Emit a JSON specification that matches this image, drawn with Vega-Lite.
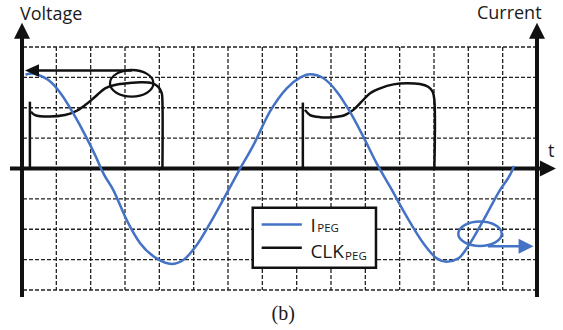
{
  "$schema": "https://vega.github.io/schema/vega-lite/v6.json",
  "width": 515,
  "height": 243,
  "autosize": {"type": "none"},
  "padding": {"left": 22, "right": 26, "top": 47, "bottom": 40},
  "background": "white",
  "config": {"view": {"stroke": null}},
  "layer": [
    {
      "data": {"values": [{"x":1},{"x":2},{"x":3},{"x":4},{"x":5},{"x":6},{"x":7},{"x":8},{"x":9},{"x":10},{"x":11},{"x":12},{"x":13},{"x":14}]},
      "mark": {"type": "rule", "color": "#222", "strokeWidth": 1.3, "strokeDash": [4, 2]},
      "encoding": {"x": {"field": "x", "type": "quantitative", "scale": {"domain": [0, 15], "nice": false, "zero": false}, "axis": null}}
    },
    {
      "data": {"values": [{"y":-4},{"y":-3},{"y":-2},{"y":-1},{"y":1},{"y":2},{"y":3},{"y":4}]},
      "mark": {"type": "rule", "color": "#222", "strokeWidth": 1.3, "strokeDash": [4, 2]},
      "encoding": {"y": {"field": "y", "type": "quantitative", "scale": {"domain": [-4, 4], "nice": false, "zero": false}, "axis": null}}
    },
    {
      "data": {"values": [{"x": 6.72, "x2": 10.31, "y": -1.29, "y2": -3.27}]},
      "mark": {"type": "rect", "fill": "white", "stroke": "#111", "strokeWidth": 2.5},
      "encoding": {
        "x": {"field": "x", "type": "quantitative", "scale": {"domain": [0, 15], "nice": false, "zero": false}, "axis": null},
        "x2": {"field": "x2"},
        "y": {"field": "y", "type": "quantitative", "scale": {"domain": [-4, 4], "nice": false, "zero": false}, "axis": null},
        "y2": {"field": "y2"}
      }
    },
    {
      "data": {"values": [{"x": 0, "y": -4.23, "y2": 4.5}, {"x": 15, "y": -4.23, "y2": 4.5}]},
      "mark": {"type": "rule", "color": "#111", "strokeWidth": 4},
      "encoding": {
        "x": {"field": "x", "type": "quantitative", "scale": {"domain": [0, 15], "nice": false, "zero": false}, "axis": null},
        "y": {"field": "y", "type": "quantitative", "scale": {"domain": [-4, 4], "nice": false, "zero": false}, "axis": null},
        "y2": {"field": "y2"}
      }
    },
    {
      "data": {"values": [{"x": -0.35, "x2": 15.2, "y": 0}]},
      "mark": {"type": "rule", "color": "#111", "strokeWidth": 4},
      "encoding": {
        "x": {"field": "x", "type": "quantitative", "scale": {"domain": [0, 15], "nice": false, "zero": false}, "axis": null},
        "x2": {"field": "x2"},
        "y": {"field": "y", "type": "quantitative", "scale": {"domain": [-4, 4], "nice": false, "zero": false}, "axis": null}
      }
    },
    {
      "data": {"values": [{"x": 0, "y": 4.8}, {"x": 15, "y": 4.8}]},
      "mark": {"type": "point", "shape": "M0,0L-1,2L1,2Z", "size": 256, "filled": true, "color": "#111", "opacity": 1},
      "encoding": {
        "x": {"field": "x", "type": "quantitative", "scale": {"domain": [0, 15], "nice": false, "zero": false}, "axis": null},
        "y": {"field": "y", "type": "quantitative", "scale": {"domain": [-4, 4], "nice": false, "zero": false}, "axis": null}
      }
    },
    {
      "data": {"values": [{"x": 15.55, "y": 0}]},
      "mark": {"type": "point", "shape": "M0,0L-2,-1L-2,1Z", "size": 256, "filled": true, "color": "#111", "opacity": 1},
      "encoding": {
        "x": {"field": "x", "type": "quantitative", "scale": {"domain": [0, 15], "nice": false, "zero": false}, "axis": null},
        "y": {"field": "y", "type": "quantitative", "scale": {"domain": [-4, 4], "nice": false, "zero": false}, "axis": null}
      }
    },
    {
      "data": {"values": [{"x": 0.23, "y": 0, "y2": 2.2}, {"x": 8.18, "y": 0, "y2": 2.17}]},
      "mark": {"type": "rule", "color": "#111", "strokeWidth": 2.5},
      "encoding": {
        "x": {"field": "x", "type": "quantitative", "scale": {"domain": [0, 15], "nice": false, "zero": false}, "axis": null},
        "y": {"field": "y", "type": "quantitative", "scale": {"domain": [-4, 4], "nice": false, "zero": false}, "axis": null},
        "y2": {"field": "y2"}
      }
    },
    {
      "data": {"values": [
        {"s":"c1","o":1,"x":0.26,"y":1.87},{"s":"c1","o":2,"x":0.38,"y":1.76},{"s":"c1","o":3,"x":0.77,"y":1.71},{"s":"c1","o":4,"x":1.25,"y":1.76},{"s":"c1","o":5,"x":1.54,"y":1.87},{"s":"c1","o":6,"x":1.84,"y":2.09},{"s":"c1","o":7,"x":2.13,"y":2.36},{"s":"c1","o":8,"x":2.42,"y":2.64},{"s":"c1","o":9,"x":2.71,"y":2.75},{"s":"c1","o":10,"x":3.1,"y":2.81},{"s":"c1","o":11,"x":3.49,"y":2.84},{"s":"c1","o":12,"x":3.78,"y":2.81},{"s":"c1","o":13,"x":3.97,"y":2.69},{"s":"c1","o":14,"x":4.07,"y":2.48},{"s":"c1","o":15,"x":4.09,"y":2.2},{"s":"c1","o":16,"x":4.09,"y":0},
        {"s":"c2","o":1,"x":8.24,"y":1.93},{"s":"c2","o":2,"x":8.39,"y":1.76},{"s":"c2","o":3,"x":8.68,"y":1.69},{"s":"c2","o":4,"x":9.07,"y":1.69},{"s":"c2","o":5,"x":9.41,"y":1.76},{"s":"c2","o":6,"x":9.65,"y":1.93},{"s":"c2","o":7,"x":9.89,"y":2.2},{"s":"c2","o":8,"x":10.14,"y":2.48},{"s":"c2","o":9,"x":10.43,"y":2.64},{"s":"c2","o":10,"x":10.82,"y":2.77},{"s":"c2","o":11,"x":11.21,"y":2.81},{"s":"c2","o":12,"x":11.59,"y":2.78},{"s":"c2","o":13,"x":11.83,"y":2.69},{"s":"c2","o":14,"x":11.96,"y":2.53},{"s":"c2","o":15,"x":12.01,"y":2.26},{"s":"c2","o":16,"x":12.01,"y":0}
      ]},
      "mark": {"type": "line", "color": "#111", "strokeWidth": 2.5, "interpolate": "catmull-rom"},
      "encoding": {
        "x": {"field": "x", "type": "quantitative", "scale": {"domain": [0, 15], "nice": false, "zero": false}, "axis": null},
        "y": {"field": "y", "type": "quantitative", "scale": {"domain": [-4, 4], "nice": false, "zero": false}, "axis": null},
        "detail": {"field": "s", "type": "nominal"},
        "order": {"field": "o", "type": "quantitative"}
      }
    },
    {
      "data": {"values": [
        {"o":1,"x":0.1,"y":3.09},{"o":2,"x":0.28,"y":3.13},{"o":3,"x":0.48,"y":3.08},{"o":4,"x":0.77,"y":2.91},{"o":5,"x":1.16,"y":2.42},{"o":6,"x":1.49,"y":1.82},{"o":7,"x":1.84,"y":1.1},{"o":8,"x":2.13,"y":0.44},{"o":9,"x":2.37,"y":-0.16},{"o":10,"x":2.66,"y":-0.71},{"o":11,"x":3.05,"y":-1.7},{"o":12,"x":3.44,"y":-2.46},{"o":13,"x":3.92,"y":-2.96},{"o":14,"x":4.36,"y":-3.14},{"o":15,"x":4.7,"y":-3.01},{"o":16,"x":5.09,"y":-2.52},{"o":17,"x":5.48,"y":-1.8},{"o":18,"x":5.96,"y":-0.82},{"o":19,"x":6.3,"y":-0.11},{"o":20,"x":6.74,"y":0.77},{"o":21,"x":7.22,"y":1.87},{"o":22,"x":7.71,"y":2.64},{"o":23,"x":8.1,"y":2.99},{"o":24,"x":8.39,"y":3.1},{"o":25,"x":8.78,"y":2.97},{"o":26,"x":9.17,"y":2.53},{"o":27,"x":9.55,"y":1.87},{"o":28,"x":9.94,"y":1.05},{"o":29,"x":10.33,"y":0.17},{"o":30,"x":10.72,"y":-0.6},{"o":31,"x":11.21,"y":-1.59},{"o":32,"x":11.69,"y":-2.46},{"o":33,"x":12.08,"y":-2.96},{"o":34,"x":12.37,"y":-3.07},{"o":35,"x":12.71,"y":-2.96},{"o":36,"x":13.05,"y":-2.46},{"o":37,"x":13.44,"y":-1.7},{"o":38,"x":13.92,"y":-0.71},{"o":39,"x":14.26,"y":-0.11},{"o":40,"x":14.33,"y":0.08}
      ]},
      "mark": {"type": "line", "color": "#4472C4", "strokeWidth": 2.5, "interpolate": "monotone"},
      "encoding": {
        "x": {"field": "x", "type": "quantitative", "scale": {"domain": [0, 15], "nice": false, "zero": false}, "axis": null},
        "y": {"field": "y", "type": "quantitative", "scale": {"domain": [-4, 4], "nice": false, "zero": false}, "axis": null},
        "order": {"field": "o", "type": "quantitative"}
      }
    },
    {
      "data": {"values": [{"x": 3.195, "y": 2.805}]},
      "mark": {"type": "point", "shape": "M-1,0A1,0.613,0,1,1,1,0A1,0.613,0,1,1,-1,0Z", "size": 1884, "filled": false, "stroke": "#111", "strokeWidth": 2.3, "opacity": 1},
      "encoding": {
        "x": {"field": "x", "type": "quantitative", "scale": {"domain": [0, 15], "nice": false, "zero": false}, "axis": null},
        "y": {"field": "y", "type": "quantitative", "scale": {"domain": [-4, 4], "nice": false, "zero": false}, "axis": null}
      }
    },
    {
      "data": {"values": [{"x": 0.47, "x2": 3.2, "y": 3.226}]},
      "mark": {"type": "rule", "color": "#111", "strokeWidth": 2.3},
      "encoding": {
        "x": {"field": "x", "type": "quantitative", "scale": {"domain": [0, 15], "nice": false, "zero": false}, "axis": null},
        "x2": {"field": "x2"},
        "y": {"field": "y", "type": "quantitative", "scale": {"domain": [-4, 4], "nice": false, "zero": false}, "axis": null}
      }
    },
    {
      "data": {"values": [{"x": 0.087, "y": 3.226}]},
      "mark": {"type": "point", "shape": "M0,0L2,-0.9L2,0.9Z", "size": 196, "filled": true, "color": "#111", "opacity": 1},
      "encoding": {
        "x": {"field": "x", "type": "quantitative", "scale": {"domain": [0, 15], "nice": false, "zero": false}, "axis": null},
        "y": {"field": "y", "type": "quantitative", "scale": {"domain": [-4, 4], "nice": false, "zero": false}, "axis": null}
      }
    },
    {
      "data": {"values": [{"x": 13.34, "y": -2.15}]},
      "mark": {"type": "point", "shape": "M-1,0A1,0.562,0,1,1,1,0A1,0.562,0,1,1,-1,0Z", "size": 1884, "filled": false, "stroke": "#4472C4", "strokeWidth": 2.5, "opacity": 1},
      "encoding": {
        "x": {"field": "x", "type": "quantitative", "scale": {"domain": [0, 15], "nice": false, "zero": false}, "axis": null},
        "y": {"field": "y", "type": "quantitative", "scale": {"domain": [-4, 4], "nice": false, "zero": false}, "axis": null}
      }
    },
    {
      "data": {"values": [{"x": 13.57, "x2": 14.6, "y": -2.56}]},
      "mark": {"type": "rule", "color": "#4472C4", "strokeWidth": 2.5},
      "encoding": {
        "x": {"field": "x", "type": "quantitative", "scale": {"domain": [0, 15], "nice": false, "zero": false}, "axis": null},
        "x2": {"field": "x2"},
        "y": {"field": "y", "type": "quantitative", "scale": {"domain": [-4, 4], "nice": false, "zero": false}, "axis": null}
      }
    },
    {
      "data": {"values": [{"x": 14.9, "y": -2.56}]},
      "mark": {"type": "point", "shape": "M0,0L-2,-1L-2,1Z", "size": 225, "filled": true, "color": "#4472C4", "opacity": 1},
      "encoding": {
        "x": {"field": "x", "type": "quantitative", "scale": {"domain": [0, 15], "nice": false, "zero": false}, "axis": null},
        "y": {"field": "y", "type": "quantitative", "scale": {"domain": [-4, 4], "nice": false, "zero": false}, "axis": null}
      }
    },
    {
      "data": {"values": [{"x": 6.98, "x2": 8.15, "y": -1.84}]},
      "mark": {"type": "rule", "color": "#4472C4", "strokeWidth": 2.5},
      "encoding": {
        "x": {"field": "x", "type": "quantitative", "scale": {"domain": [0, 15], "nice": false, "zero": false}, "axis": null},
        "x2": {"field": "x2"},
        "y": {"field": "y", "type": "quantitative", "scale": {"domain": [-4, 4], "nice": false, "zero": false}, "axis": null}
      }
    },
    {
      "data": {"values": [{"x": 6.98, "x2": 8.15, "y": -2.61}]},
      "mark": {"type": "rule", "color": "#111", "strokeWidth": 2.5},
      "encoding": {
        "x": {"field": "x", "type": "quantitative", "scale": {"domain": [0, 15], "nice": false, "zero": false}, "axis": null},
        "x2": {"field": "x2"},
        "y": {"field": "y", "type": "quantitative", "scale": {"domain": [-4, 4], "nice": false, "zero": false}, "axis": null}
      }
    },
    {
      "data": {"values": [{"label": "Voltage", "x": -0.06, "y": 4.905}, {"label": "Current", "x": 13.25, "y": 4.93}, {"label": "t", "x": 15.32, "y": 0.39}]},
      "mark": {"type": "text", "font": "Open Sans", "fontSize": 18, "align": "left", "baseline": "alphabetic", "color": "#1a1a1a"},
      "encoding": {
        "x": {"field": "x", "type": "quantitative", "scale": {"domain": [0, 15], "nice": false, "zero": false}, "axis": null},
        "y": {"field": "y", "type": "quantitative", "scale": {"domain": [-4, 4], "nice": false, "zero": false}, "axis": null},
        "text": {"field": "label"}
      }
    },
    {
      "data": {"values": [{"label": "I", "x": 8.4, "y": -2.08}, {"label": "CLK", "x": 8.4, "y": -2.956}]},
      "mark": {"type": "text", "font": "Open Sans", "fontSize": 19, "align": "left", "baseline": "alphabetic", "color": "#1a1a1a"},
      "encoding": {
        "x": {"field": "x", "type": "quantitative", "scale": {"domain": [0, 15], "nice": false, "zero": false}, "axis": null},
        "y": {"field": "y", "type": "quantitative", "scale": {"domain": [-4, 4], "nice": false, "zero": false}, "axis": null},
        "text": {"field": "label"}
      }
    },
    {
      "data": {"values": [{"label": "PEG", "x": 8.6, "y": -2.1}, {"label": "PEG", "x": 9.41, "y": -3.0}]},
      "mark": {"type": "text", "font": "Open Sans", "fontSize": 11.5, "align": "left", "baseline": "alphabetic", "color": "#1a1a1a"},
      "encoding": {
        "x": {"field": "x", "type": "quantitative", "scale": {"domain": [0, 15], "nice": false, "zero": false}, "axis": null},
        "y": {"field": "y", "type": "quantitative", "scale": {"domain": [-4, 4], "nice": false, "zero": false}, "axis": null},
        "text": {"field": "label"}
      }
    },
    {
      "data": {"values": [{"label": "(b)", "x": 7.61, "y": -4.99}]},
      "mark": {"type": "text", "font": "Liberation Serif", "fontSize": 20, "align": "center", "baseline": "alphabetic", "color": "#1a1a1a"},
      "encoding": {
        "x": {"field": "x", "type": "quantitative", "scale": {"domain": [0, 15], "nice": false, "zero": false}, "axis": null},
        "y": {"field": "y", "type": "quantitative", "scale": {"domain": [-4, 4], "nice": false, "zero": false}, "axis": null},
        "text": {"field": "label"}
      }
    }
  ]
}
